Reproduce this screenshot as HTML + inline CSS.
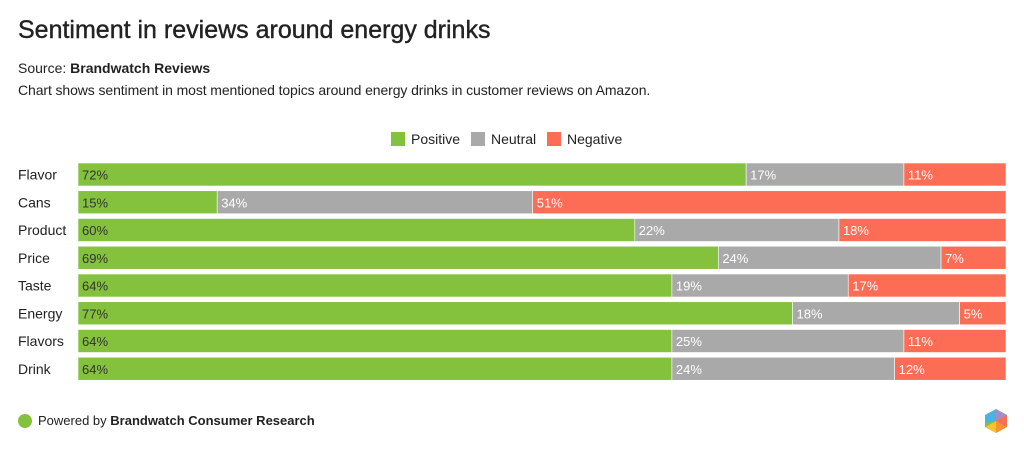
<!DOCTYPE html>
<html><head><meta charset="utf-8"><style>
body{margin:0;width:1024px;height:456px;background:#fff;font-family:"Liberation Sans",sans-serif;color:#222;position:relative;overflow:hidden}
.t{position:absolute;white-space:nowrap}
</style></head><body>
<div class="t" style="left:18px;top:16px;font-size:25px;font-weight:normal;color:#222;-webkit-text-stroke:0.4px #222">Sentiment in reviews around energy drinks</div>
<div class="t" style="left:18px;top:60px;font-size:14px">Source: <b>Brandwatch Reviews</b></div>
<div class="t" style="left:18px;top:82px;font-size:14px;letter-spacing:-0.1px">Chart shows sentiment in most mentioned topics around energy drinks in customer reviews on Amazon.</div>
<svg id="c" width="1024" height="456" style="position:absolute;left:0;top:0"></svg>
<div class="t" style="left:18px;top:413px;font-size:13px;display:flex;align-items:center"><span style="display:inline-block;width:14px;height:14px;border-radius:50%;background:#84c13d;margin-right:6px"></span>Powered by&nbsp;<b>Brandwatch Consumer Research</b></div>
<svg width="26" height="26" style="position:absolute;left:983px;top:408px" viewBox="0 0 26 26">
<polygon points="13,1 24,7 24,19 13,25 2,19 2,7" fill="#4bb3e0"/>
<polygon points="13,13 13,1 24,7" fill="#a98bc6"/>
<polygon points="13,13 24,7 24,19" fill="#fb6e52"/>
<polygon points="13,13 24,19 13,25" fill="#f7922f"/>
<polygon points="13,13 13,25 2,19" fill="#fdc02f"/>
<polygon points="13,13 2,19 2,15" fill="#84c13d"/>
</svg>
<script>
const categories=["Flavor","Cans","Product","Price","Taste","Energy","Flavors","Drink"];
const positive=[72,15,60,69,64,77,64,64];
const neutral=[17,34,22,24,19,18,25,24];
const negative=[11,51,18,7,17,5,11,12];
const seriesNames=["Positive","Neutral","Negative"];
const colors=["#84c13d","#a9a9a9","#fd6c55"];
const NS="http://www.w3.org/2000/svg",svg=document.getElementById('c');
const x0=78,W=928,y0=163,pitch=27.75,bh=23;
const xs=v=>v/100*W;
function mk(t,a){const e=document.createElementNS(NS,t);for(const k in a)e.setAttribute(k,a[k]);svg.appendChild(e);return e;}
const series=[positive,neutral,negative];
categories.forEach((c,i)=>{
  const y=y0+i*pitch;
  const l=mk('text',{x:18,y:y+bh/2+5,'font-size':14,fill:'#222'});l.textContent=c;
  
  
  let acc=0;
  series.forEach((s,j)=>{
    const x=x0+xs(acc),w=xs(s[i]);
    const r=mk('rect',{x:x,y:y,width:w,height:bh,fill:colors[j],stroke:'#fff','stroke-width':0.6});
    
    
    const t=mk('text',{x:x+4,y:y+bh/2+5,'font-size':13,fill:j==0?'#333':'#fff'});t.textContent=s[i]+'%';
    
    
    acc+=s[i];
  });
});
const lx=[391,471,547];
seriesNames.forEach((n,j)=>{
  const r=mk('rect',{x:lx[j],y:132,width:14,height:14,fill:colors[j]});
  
  
  const t=mk('text',{x:lx[j]+20,y:144,'font-size':14,fill:'#222'});t.textContent=n;
  
  
});
</script>
</body></html>
